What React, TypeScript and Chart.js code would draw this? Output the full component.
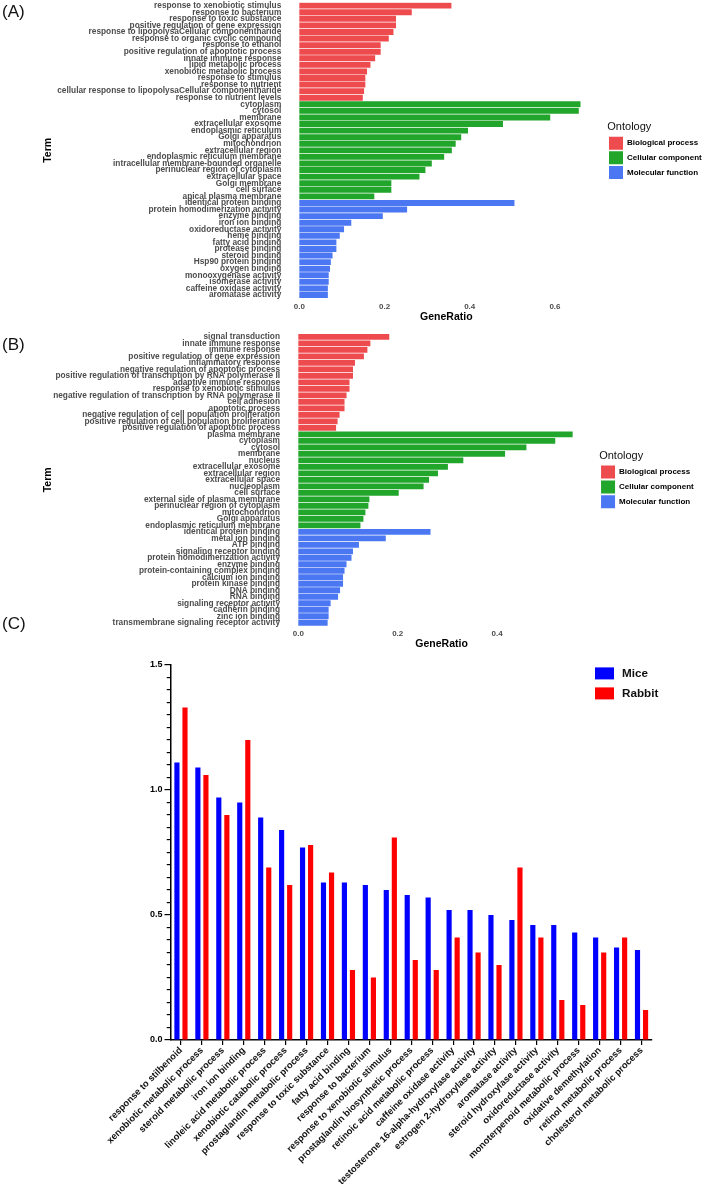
import React, { useEffect, useRef } from 'react';
import { Chart, registerables } from 'chart.js';

Chart.register(...registerables);

const FONT = 'Arial, "Liberation Sans", Helvetica, sans-serif';

// ---------------- Panel A ----------------
const aBpTerms = [
  'response to xenobiotic stimulus',
  'response to bacterium',
  'response to toxic substance',
  'positive regulation of gene expression',
  'response to lipopolysaCellular componentharide',
  'response to organic cyclic compound',
  'response to ethanol',
  'positive regulation of apoptotic process',
  'innate immune response',
  'lipid metabolic process',
  'xenobiotic metabolic process',
  'response to stimulus',
  'response to nutrient',
  'cellular response to lipopolysaCellular componentharide',
  'response to nutrient levels',
];
const aBpRatios = [0.357, 0.264, 0.227, 0.227, 0.221, 0.21, 0.191, 0.191, 0.178, 0.167, 0.159, 0.155, 0.155, 0.152, 0.149];

const aCcTerms = [
  'cytoplasm',
  'cytosol',
  'membrane',
  'extracellular exosome',
  'endoplasmic reticulum',
  'Golgi apparatus',
  'mitochondrion',
  'extracellular region',
  'endoplasmic reticulum membrane',
  'intracellular membrane-bounded organelle',
  'perinuclear region of cytoplasm',
  'extracellular space',
  'Golgi membrane',
  'cell surface',
  'apical plasma membrane',
];
const aCcRatios = [0.66, 0.656, 0.589, 0.478, 0.396, 0.38, 0.367, 0.358, 0.34, 0.311, 0.296, 0.282, 0.216, 0.216, 0.176];

const aMfTerms = [
  'identical protein binding',
  'protein homodimerization activity',
  'enzyme binding',
  'iron ion binding',
  'oxidoreductase activity',
  'heme binding',
  'fatty acid binding',
  'protease binding',
  'steroid binding',
  'Hsp90 protein binding',
  'oxygen binding',
  'monooxygenase activity',
  'isomerase activity',
  'caffeine oxidase activity',
  'aromatase activity',
];
const aMfRatios = [0.505, 0.253, 0.196, 0.122, 0.105, 0.095, 0.087, 0.087, 0.078, 0.074, 0.072, 0.069, 0.069, 0.067, 0.067];

const aXTicks = [0, 0.2, 0.4, 0.6];

// ---------------- Panel B ----------------
const bBpTerms = [
  'signal transduction',
  'innate immune response',
  'immune response',
  'positive regulation of gene expression',
  'inflammatory response',
  'negative regulation of apoptotic process',
  'positive regulation of transcription by RNA polymerase II',
  'adaptive immune response',
  'response to xenobiotic stimulus',
  'negative regulation of transcription by RNA polymerase II',
  'cell adhesion',
  'apoptotic process',
  'negative regulation of cell population proliferation',
  'positive regulation of cell population proliferation',
  'positive regulation of apoptotic process',
];
const bBpRatios = [0.183, 0.145, 0.139, 0.132, 0.114, 0.11, 0.11, 0.103, 0.103, 0.097, 0.093, 0.093, 0.083, 0.079, 0.076];

const bCcTerms = [
  'plasma membrane',
  'cytoplasm',
  'cytosol',
  'membrane',
  'nucleus',
  'extracellular exosome',
  'extracellular region',
  'extracellular space',
  'nucleoplasm',
  'cell surface',
  'external side of plasma membrane',
  'perinuclear region of cytoplasm',
  'mitochondrion',
  'Golgi apparatus',
  'endoplasmic reticulum membrane',
];
const bCcRatios = [0.552, 0.517, 0.459, 0.416, 0.332, 0.301, 0.281, 0.263, 0.252, 0.202, 0.143, 0.141, 0.135, 0.131, 0.125];

const bMfTerms = [
  'identical protein binding',
  'metal ion binding',
  'ATP binding',
  'signaling receptor binding',
  'protein homodimerization activity',
  'enzyme binding',
  'protein-containing complex binding',
  'calcium ion binding',
  'protein kinase binding',
  'DNA binding',
  'RNA binding',
  'signaling receptor activity',
  'cadherin binding',
  'zinc ion binding',
  'transmembrane signaling receptor activity',
];
const bMfRatios = [0.266, 0.176, 0.122, 0.11, 0.107, 0.097, 0.093, 0.09, 0.09, 0.084, 0.08, 0.065, 0.061, 0.061, 0.059];

const bXTicks = [0, 0.2, 0.4];

// ---------------- Panel C ----------------
const cTerms = [
  'response to stilbenoid',
  'xenobiotic metabolic process',
  'steroid metabolic process',
  'iron ion binding',
  'linoleic acid metabolic process',
  'xenobiotic catabolic process',
  'prostaglandin metabolic process',
  'response to toxic substance',
  'fatty acid binding',
  'response to bacterium',
  'response to xenobiotic stimulus',
  'prostaglandin biosynthetic process',
  'retinoic acid metabolic process',
  'caffeine oxidase activity',
  'testosterone 16-alpha-hydroxylase activity',
  'estrogen 2-hydroxylase activity',
  'aromatase activity',
  'steroid hydroxylase activity',
  'oxidoreductase activity',
  'monoterpenoid metabolic process',
  'oxidative demethylation',
  'retinol metabolic process',
  'cholesterol metabolic process',
];
const cMice = [1.11, 1.09, 0.97, 0.95, 0.89, 0.84, 0.77, 0.63, 0.63, 0.62, 0.6, 0.58, 0.57, 0.52, 0.52, 0.5, 0.48, 0.46, 0.46, 0.43, 0.41, 0.37, 0.36];
const cRabbit = [1.33, 1.06, 0.9, 1.2, 0.69, 0.62, 0.78, 0.67, 0.28, 0.25, 0.81, 0.32, 0.28, 0.41, 0.35, 0.3, 0.69, 0.41, 0.16, 0.14, 0.35, 0.41, 0.12];
const cYTickLabels = [0, 0.5, 1.0, 1.5];
const cSeriesNames = ['Mice', 'Rabbit'];

const ontologyNames = ['Biological process', 'Cellular component', 'Molecular function'];

// ---------------- styles ----------------
const ONTOLOGY_COLORS = ['#EE4B4F', '#22A52B', '#4B77F2'];
const C_COLORS = ['#0000FF', '#FF0000'];

function goConfig(groups: { terms: string[]; ratios: number[] }[], tickVals: number[], L: any) {
  const labels = groups.flatMap((g) => g.terms);
  let offset = 0;
  const datasets = groups.map((g, gi) => {
    const start = offset;
    offset += g.terms.length;
    return {
      label: ontologyNames[gi],
      data: labels.map((_, i) => (i >= start && i < start + g.ratios.length ? g.ratios[i - start] : null)),
      backgroundColor: ONTOLOGY_COLORS[gi],
      borderWidth: 0,
      grouped: false,
      barPercentage: 0.9,
      categoryPercentage: 1,
    };
  });
  return {
    type: 'bar',
    data: { labels, datasets },
    options: {
      indexAxis: 'y',
      responsive: false,
      animation: false,
      devicePixelRatio: 1,
      layout: { padding: { top: L.padTop, right: L.padRight, left: 0, bottom: 0 } },
      plugins: {
        tooltip: { enabled: false },
        legend: {
          position: 'right',
          align: 'start',
          maxWidth: L.legendMaxWidth,
          title: {
            display: true,
            text: 'Ontology',
            position: 'start',
            color: '#111',
            font: { family: FONT, size: 11 },
            padding: { top: L.legendTitleTop, bottom: L.legendTitleBottom },
          },
          labels: {
            boxWidth: 14,
            boxHeight: 13,
            padding: L.legendPad,
            color: '#000',
            font: { family: FONT, size: 8, weight: 'bold' },
          },
        },
      },
      scales: {
        x: {
          type: 'linear',
          min: L.xMin,
          max: L.xMax,
          afterBuildTicks: (s: any) => {
            s.ticks = tickVals.map((v) => ({ value: v }));
          },
          afterFit: (s: any) => {
            s.height = L.xAxisHeight;
            s.paddingLeft = 0;
            s.paddingRight = 0;
          },
          ticks: {
            callback: (v: any) => Number(v).toFixed(1),
            color: '#4D4D4D',
            font: { family: FONT, size: 8, weight: 'bold' },
            padding: L.tickPad,
          },
          grid: { display: false, drawTicks: false },
          border: { display: false },
          title: {
            display: true,
            text: 'GeneRatio',
            color: '#000',
            font: { family: FONT, size: 10.5, weight: 'bold' },
            padding: { top: 0, bottom: L.titlePadBottom },
          },
        },
        y: {
          type: 'category',
          afterFit: (s: any) => {
            s.width = L.yAxisWidth;
            s.paddingTop = 0;
            s.paddingBottom = 0;
          },
          ticks: {
            autoSkip: false,
            color: '#4D4D4D',
            font: { family: FONT, size: 8.3, weight: 'bold' },
            padding: 4,
          },
          grid: { display: false, drawTicks: false },
          border: { display: false },
          title: {
            display: true,
            text: 'Term',
            color: '#000',
            font: { family: FONT, size: 10.5, weight: 'bold' },
            padding: { top: 42, bottom: 0 },
          },
        },
      },
    },
  };
}

function makeA() {
  return goConfig(
    [
      { terms: aBpTerms, ratios: aBpRatios },
      { terms: aCcTerms, ratios: aCcRatios },
      { terms: aMfTerms, ratios: aMfRatios },
    ],
    aXTicks,
    {
      xMin: -0.0329,
      xMax: 0.7229,
      yAxisWidth: 285.3,
      xAxisHeight: 26.7,
      padTop: 2.37,
      padRight: 0,
      legendMaxWidth: 101.7,
      legendPad: 1.7,
      legendTitleTop: 118.8,
      legendTitleBottom: 0.6,
      tickPad: 3.6,
      titlePadBottom: 2,
    }
  );
}

function makeB() {
  return goConfig(
    [
      { terms: bBpTerms, ratios: bBpRatios },
      { terms: bCcTerms, ratios: bCcRatios },
      { terms: bMfTerms, ratios: bMfRatios },
    ],
    bXTicks,
    {
      xMin: -0.0288,
      xMax: 0.6054,
      yAxisWidth: 284,
      xAxisHeight: 25,
      padTop: 7.7,
      padRight: 8,
      legendMaxWidth: 101.8,
      legendPad: 1.85,
      legendTitleTop: 116.8,
      legendTitleBottom: 0,
      tickPad: 3.2,
      titlePadBottom: 0.4,
    }
  );
}

const isMajor = (v: any) => cYTickLabels.some((t) => Math.abs(t - Number(v)) < 1e-6);

const cLegendPlugin = {
  id: 'cLegend',
  afterDraw(chart: any) {
    const ctx = chart.ctx;
    const { right, top } = chart.chartArea;
    ctx.save();
    chart.data.datasets.forEach((ds: any, i: number) => {
      const x = right - 57;
      const y = top + 2.4 + i * 20;
      ctx.fillStyle = ds.backgroundColor;
      ctx.fillRect(x, y, 19, 12);
      ctx.fillStyle = '#111';
      ctx.font = `bold 11.7px ${FONT}`;
      ctx.textBaseline = 'middle';
      ctx.textAlign = 'left';
      ctx.fillText(ds.label, x + 27, y + 6.5);
    });
    ctx.restore();
  },
};

function makeC() {
  return {
    type: 'bar',
    data: {
      labels: cTerms,
      datasets: [cMice, cRabbit].map((vals, i) => ({
        label: cSeriesNames[i],
        data: vals,
        backgroundColor: C_COLORS[i],
        borderWidth: 0,
        barPercentage: 0.64,
        categoryPercentage: 0.77,
      })),
    },
    options: {
      responsive: false,
      animation: false,
      devicePixelRatio: 1,
      layout: { padding: { top: 15, right: 57, left: 0, bottom: 0 } },
      plugins: { legend: { display: false }, tooltip: { enabled: false } },
      scales: {
        x: {
          type: 'category',
          offset: true,
          afterFit: (s: any) => {
            s.height = 146;
            s.paddingLeft = 0;
            s.paddingRight = 0;
          },
          grid: {
            display: true,
            drawOnChartArea: false,
            drawTicks: true,
            tickLength: 5,
            offset: false,
            color: '#000',
            lineWidth: 1.2,
          },
          border: { display: true, color: '#000', width: 1.5 },
          ticks: {
            autoSkip: false,
            minRotation: 45,
            maxRotation: 45,
            padding: 0,
            color: '#111',
            font: { family: FONT, size: 9.4, weight: 'bold' },
          },
        },
        y: {
          type: 'linear',
          min: 0,
          max: 1.5,
          afterFit: (s: any) => {
            s.width = 170.5;
            s.paddingTop = 0;
            s.paddingBottom = 0;
          },
          ticks: {
            stepSize: 0.05,
            maxTicksLimit: 100,
            autoSkip: false,
            callback: (v: any) => (isMajor(v) ? Number(v).toFixed(1) : ''),
            color: '#000',
            font: { family: FONT, size: 9, weight: 'bold' },
            padding: 2,
          },
          grid: {
            display: true,
            drawOnChartArea: false,
            drawTicks: true,
            tickLength: 6,
            color: '#000',
            lineWidth: 1.2,
            tickBorderDash: (c: any) => (isMajor(c.tick && c.tick.value) ? [] : [10, 10]),
            tickBorderDashOffset: (c: any) => (isMajor(c.tick && c.tick.value) ? 0 : 17.75),
          },
          border: { display: true, color: '#000', width: 1.5 },
        },
      },
    },
    plugins: [cLegendPlugin],
  };
}

function ChartCanvas({ make, top, height }: { make: () => any; top: number; height: number }) {
  const ref = useRef<HTMLCanvasElement>(null);
  useEffect(() => {
    const chart = new Chart(ref.current as HTMLCanvasElement, make());
    return () => chart.destroy();
  }, [make]);
  return (
    <canvas
      ref={ref}
      width={709}
      height={height}
      style={{ position: 'absolute', left: 0, top, width: 709, height, display: 'block' }}
    />
  );
}

const panelLabelStyle = (top: number): React.CSSProperties => ({
  position: 'absolute',
  left: 2,
  top,
  fontFamily: FONT,
  fontSize: 17,
  lineHeight: '17px',
  color: '#111',
});

export default function App() {
  return (
    <div
      style={{
        position: 'absolute',
        left: 0,
        top: 0,
        width: 709,
        height: 1186,
        background: '#fff',
        overflow: 'hidden',
      }}
    >
      <ChartCanvas make={makeA} top={0} height={325} />
      <ChartCanvas make={makeB} top={326} height={325} />
      <ChartCanvas make={makeC} top={650} height={536} />
      <div style={panelLabelStyle(2.5)}>(A)</div>
      <div style={panelLabelStyle(335.5)}>(B)</div>
      <div style={panelLabelStyle(614.5)}>(C)</div>
    </div>
  );
}
